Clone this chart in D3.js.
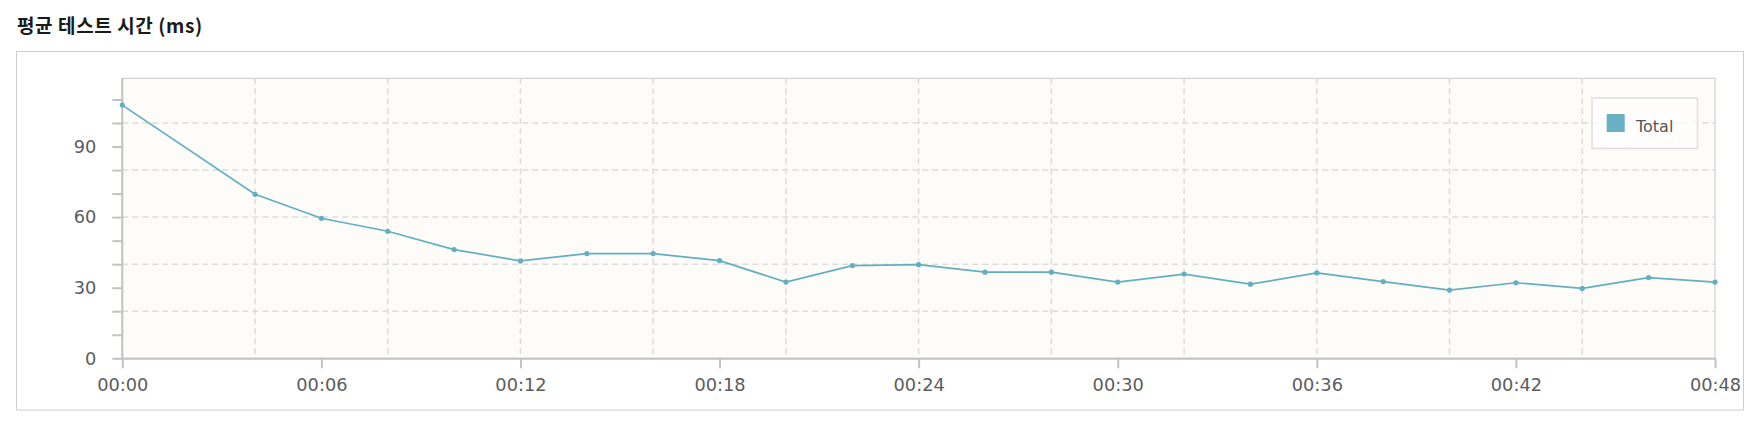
<!DOCTYPE html>
<html>
<head>
<meta charset="utf-8">
<script src="https://cdn.jsdelivr.net/npm/d3@7"></script>
<style>
  body { margin: 0; background: #fff; }
  .axis text { font-family: "DejaVu Sans", sans-serif; font-size: 17.8px; fill: #5c5c5c; }
  .axis line, .axis path { stroke: #c2c2c2; stroke-width: 2; }
</style>
</head>
<body>
<div id="chart"></div>
<script>
// minutes since start, and average test time (ms)
var minutes = [0, 4, 6, 8, 10, 12, 14, 16, 18, 20, 22, 24, 26, 28, 30, 32, 34, 36, 38, 40, 42, 44, 46, 48];
var avgMs = [107.6, 69.7, 59.5, 54.0, 46.2, 41.4, 44.5, 44.5, 41.5, 32.4, 39.4, 39.8,
             36.6, 36.6, 32.4, 35.8, 31.5, 36.3, 32.6, 29.0, 32.1, 29.7, 34.3, 32.4];
var xTickMinutes = [0, 6, 12, 18, 24, 30, 36, 42, 48];
var xGridMinutes = [4, 8, 12, 16, 20, 24, 28, 32, 36, 40, 44];
var yTickValues = [0, 10, 20, 30, 40, 50, 60, 70, 80, 90, 100, 110];
var yLabelValues = [0, 30, 60, 90];
var yGridValues = [20, 40, 60, 80, 100];
var seriesName = "Total";
var chartTitle = "평균 테스트 시간 (ms)";

var svgWidth = 1762;
var svgHeight = 424;
var lineColor = "#63afc0";

var margin = { top: 78.3, left: 122.3, right: 47, bottom: 65.7 };
var width = svgWidth - margin.left - margin.right;
var height = svgHeight - margin.top - margin.bottom;

var svg = d3.select("#chart")
    .append("svg")
    .attr("width", svgWidth)
    .attr("height", svgHeight);

// title
svg.append("text")
    .attr("x", 17)
    .attr("y", 33)
    .attr("font-family", "'Noto Sans CJK KR', sans-serif")
    .attr("font-weight", 700)
    .attr("font-size", "19px")
    .attr("letter-spacing", "0.6px")
    .attr("fill", "#1a1a1a")
    .text(chartTitle);

// outer box
svg.append("rect")
    .attr("x", 16.5)
    .attr("y", 51.5)
    .attr("width", 1727)
    .attr("height", 358.5)
    .attr("fill", "none")
    .attr("stroke", "#cfcfcf");

var chartGroup = svg.append("g")
    .attr("transform", `translate(${margin.left}, ${margin.top})`);

var xScale = d3.scaleLinear()
    .domain([0, 48])
    .range([0, width]);

var yScale = d3.scaleLinear()
    .domain([0, 119])
    .range([height, 0]);

// plot background
chartGroup.append("rect")
    .attr("width", width)
    .attr("height", height)
    .attr("fill", "#fdfcf8")
    .attr("stroke", "#c8c8c8");

// dashed grid
chartGroup.selectAll(".ygrid")
    .data(yGridValues)
    .enter()
    .append("line")
    .attr("x1", 0)
    .attr("x2", width)
    .attr("y1", d => yScale(d))
    .attr("y2", d => yScale(d))
    .attr("stroke", "#dcdcdc")
    .attr("stroke-width", 1.5)
    .attr("stroke-dasharray", "6,4");

chartGroup.selectAll(".xgrid")
    .data(xGridMinutes)
    .enter()
    .append("line")
    .attr("x1", d => xScale(d))
    .attr("x2", d => xScale(d))
    .attr("y1", 0)
    .attr("y2", height)
    .attr("stroke", "#dcdcdc")
    .attr("stroke-width", 1.5)
    .attr("stroke-dasharray", "6,4");

// axes
var xAxis = d3.axisBottom(xScale)
    .tickValues(xTickMinutes)
    .tickSize(10)
    .tickPadding(10.5)
    .tickSizeOuter(0)
    .tickFormat(d => "00:" + d3.format("02d")(d));

var yAxis = d3.axisLeft(yScale)
    .tickValues(yTickValues)
    .tickSize(10)
    .tickPadding(16)
    .tickSizeOuter(0)
    .tickFormat(d => yLabelValues.includes(d) ? d : "");

chartGroup.append("g")
    .attr("class", "axis")
    .attr("transform", `translate(0, ${height})`)
    .call(xAxis);

var yAxisGroup = chartGroup.append("g")
    .attr("class", "axis")
    .call(yAxis);
yAxisGroup.select(".domain").attr("d", `M0,0V${height}`);

// line + points
var line = d3.line()
    .x((d, i) => xScale(minutes[i]))
    .y(d => yScale(d));

chartGroup.append("path")
    .datum(avgMs)
    .attr("d", line)
    .attr("fill", "none")
    .attr("stroke", lineColor)
    .attr("stroke-width", 1.7);

chartGroup.selectAll(".pt")
    .data(avgMs)
    .enter()
    .append("circle")
    .attr("cx", (d, i) => xScale(minutes[i]))
    .attr("cy", d => yScale(d))
    .attr("r", 2.6)
    .attr("fill", lineColor);

// legend
var legend = svg.append("g")
    .attr("transform", "translate(1592, 98)");

legend.append("rect")
    .attr("width", 105.5)
    .attr("height", 50.5)
    .attr("fill", "#fff")
    .attr("fill-opacity", 0.75)
    .attr("stroke", "#dedede")
    .attr("stroke-width", 1.5);

legend.append("rect")
    .attr("x", 14.7)
    .attr("y", 16)
    .attr("width", 18)
    .attr("height", 18)
    .attr("fill", "#68b1c2");

legend.append("text")
    .attr("x", 44)
    .attr("y", 33.5)
    .attr("font-family", "'DejaVu Sans', sans-serif")
    .attr("font-size", "16px")
    .attr("fill", "#555")
    .text(seriesName);
</script>
</body>
</html>
